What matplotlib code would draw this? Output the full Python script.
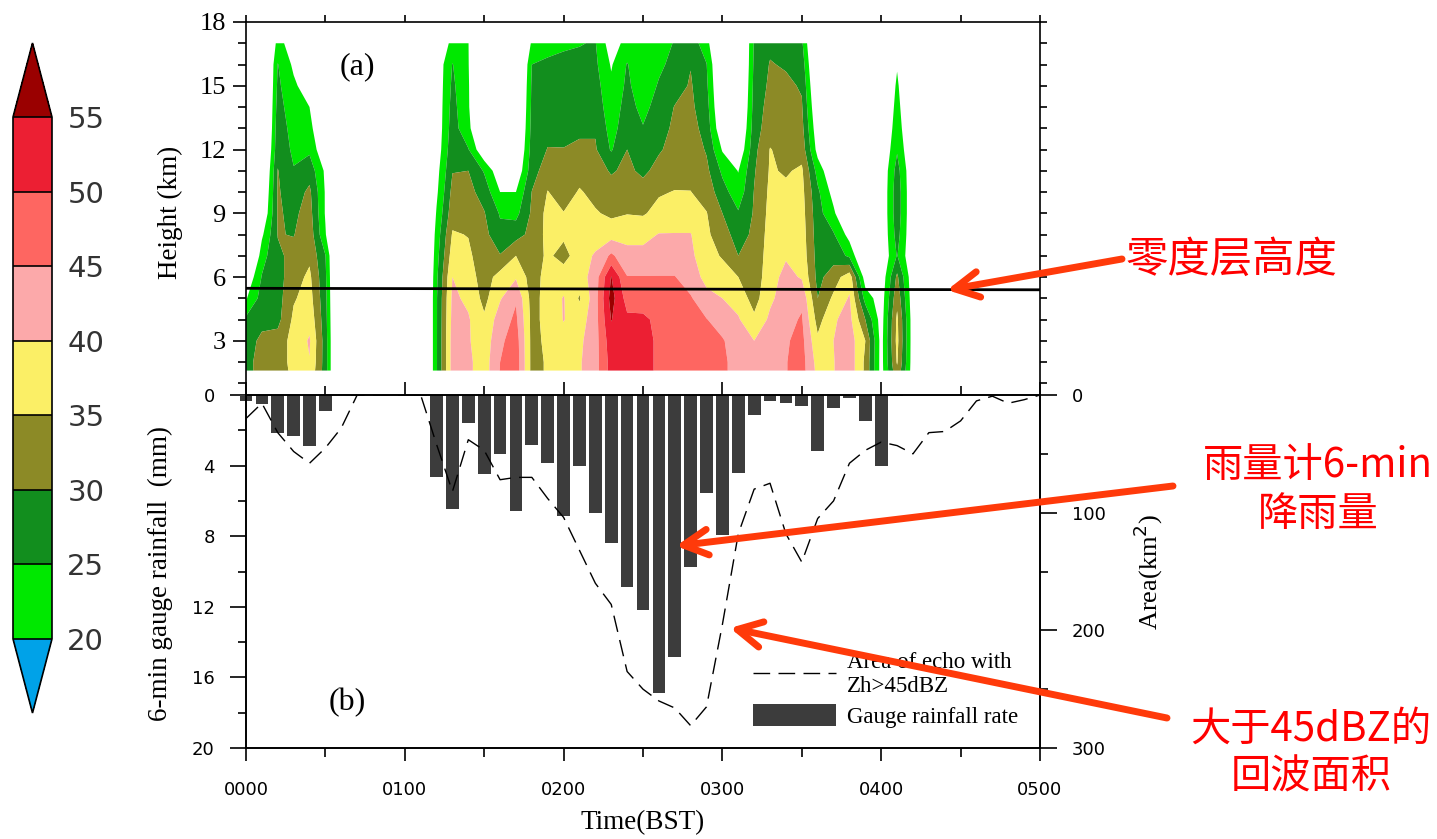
import numpy as np
import matplotlib
matplotlib.use("Agg")
import matplotlib.pyplot as plt
from matplotlib.colors import ListedColormap, BoundaryNorm
from matplotlib.cm import ScalarMappable
from matplotlib.patches import FancyArrowPatch
from matplotlib.ticker import MultipleLocator, FixedLocator

# ---------------- radar reflectivity: one vertical profile (dBZ) per volume scan ----------------
heights_km = [1.6, 2, 3, 4, 5, 6, 7, 8, 9, 10, 11, 12, 13, 14, 15, 16, 17]
scan_minutes = [0, 6, 12, 18, 24, 30, 36, 42, 48, 54, 60, 66, 72, 78, 84, 90, 96,
                102, 108, 114, 120, 126, 132, 138, 144, 150, 156, 162, 168, 174,
                180, 186, 192, 198, 204, 210, 216, 222, 228, 234, 240, 246, 252,
                258, 264]
clear_air = [5, 5, 5, 5, 5, 5, 5, 5, 5, 5, 5, 5, 5, 5, 5, 5, 5]
dbz_profiles = [
    [27.5, 27.5, 27, 26, 19.5, 15, 5, 5, 5, 5, 5, 5, 5, 5, 5, 5, 5],
    [33, 33, 31.5, 28, 27, 25.3, 23, 19, 14, 12, 10, 8, 6, 6, 6, 6, 6],
    [32, 32, 32, 28.5, 28, 28, 29, 30.2, 30.5, 30.5, 30.2, 28.5, 28, 27, 26, 25.2, 22],
    [36.5, 37, 37, 36, 34.5, 33, 31.5, 29.8, 29, 27.5, 25.3, 24, 23, 22, 21, 19, 17],
    [39, 39.8, 40.5, 38.5, 37, 36, 34, 33, 32, 31, 28, 24, 22, 20, 17, 12, 8],
    [27.5, 27.5, 27.5, 27, 26.5, 26, 25.2, 20.5, 19.5, 19.5, 19, 15, 12, 10, 8, 5, 5],
    clear_air, clear_air, clear_air, clear_air, clear_air, clear_air,
    [24.5, 24.5, 24.5, 24.5, 24.5, 24, 23, 22, 20.5, 19, 18, 16.5, 16, 16, 16, 16, 15],
    [42, 42, 42, 41.5, 41, 40, 37.5, 35.5, 33, 31.5, 29.8, 28.5, 27.5, 26.8, 26, 25.2, 21.5],
    [41, 41, 40.5, 40.5, 39, 37.5, 36, 34.8, 33, 31.5, 30, 25.3, 21, 20.5, 20.5, 20.3, 20.2],
    [37.5, 37.5, 37, 35.8, 33.5, 32.5, 32, 31.5, 30.3, 28, 24.5, 15, 14, 12, 10, 8, 6],
    [45.2, 45, 44, 42.5, 39.5, 37, 30.3, 26.5, 24.5, 20, 16, 13, 11, 9, 8, 7, 6],
    [48, 48, 47.5, 46, 44.5, 39.5, 35, 28, 23.5, 20, 15, 12, 10, 9, 8, 7, 6],
    [33.5, 33.5, 33.5, 33.5, 33, 32.5, 32, 31.5, 30.8, 30.1, 28, 27, 26.5, 26, 25.7, 25, 21],
    [35.5, 35.5, 36, 36.5, 37, 37, 36, 36.5, 36.5, 35.2, 32.5, 30.2, 28.5, 27.5, 26.5, 25.5, 24],
    [38, 38, 38.5, 40.2, 40.3, 38, 33, 36, 35.2, 32.5, 31, 30.1, 29, 28, 27, 25.8, 24.5],
    [39.5, 39.5, 39, 37.5, 34.5, 37.5, 38, 37.5, 36.5, 35.5, 33, 30.5, 29.5, 28.5, 27.5, 26, 24.8],
    [43, 43, 43, 43, 43, 42.5, 40.5, 38, 35.5, 33.5, 32, 30.5, 29.5, 28, 27, 26, 25.3],
    [52, 52, 53, 55.2, 57, 55.2, 46, 38, 34, 32, 29.5, 24.5, 23, 22, 21, 19.5, 17],
    [51.5, 51.5, 51.5, 51, 48, 45.2, 41.5, 38.5, 34.8, 32.5, 31, 30, 28, 27, 26, 25.3, 22],
    [51, 51, 51, 50.8, 48, 45.2, 41.5, 38.5, 34.5, 32, 29, 27, 25.3, 23.5, 22, 21, 20],
    [49.5, 49.5, 49.5, 49, 47, 45.2, 42, 40.2, 36.5, 34.5, 31.5, 29.5, 28, 27, 25.5, 24, 22],
    [48, 48, 48, 47.5, 46.5, 45.2, 42, 40.2, 37.5, 35.2, 33, 31.5, 31, 30.2, 28, 26.5, 25.5],
    [47, 47, 47, 46.5, 45.5, 42.5, 41, 40.2, 37.5, 35.1, 33.5, 33, 32, 31, 30.5, 29.8, 28],
    [45.5, 45.5, 45.5, 45.2, 41.5, 38.5, 37, 36, 35.2, 33, 31.2, 29.5, 28, 27, 26, 25.2, 22],
    [46, 46, 45.5, 42.5, 40, 37.5, 34.5, 32, 30, 27, 24, 19.5, 15, 13, 12, 11, 10],
    [43, 43, 42, 40.5, 38, 35, 30, 28, 25.5, 22, 19.8, 15, 12, 10, 9, 8, 8],
    [41, 41, 40, 36, 33, 32, 31.5, 31, 30.5, 30.2, 29.5, 28.5, 27.5, 27, 26.5, 26, 25.5],
    [42.5, 42.5, 42, 41, 39, 38, 37.5, 37, 36.5, 36, 35.5, 35.2, 33, 32, 31, 30.3, 29],
    [44.8, 44.8, 44.5, 43.5, 42.5, 41.5, 39.5, 38.5, 37.5, 36, 34.5, 33.5, 33, 32, 31, 29.5, 28],
    [47, 47, 46.5, 45.5, 44, 39.5, 38, 37.5, 37, 36.5, 35.8, 33, 31.5, 30.5, 29.5, 28, 26],
    [38.5, 38, 36, 33, 30, 28.5, 28, 27.5, 27, 26, 23, 18, 16, 14, 12, 10, 8],
    [39.8, 39.8, 40, 39.5, 36, 32.5, 28, 25.5, 21, 18, 15, 12, 10, 8, 7, 6, 5],
    [43, 43, 42.5, 41.5, 40.5, 38, 24, 18, 12, 9, 8, 7, 6, 6, 5, 5, 5],
    [34, 34, 35, 30, 23, 17, 12, 10, 8, 7, 6, 6, 5, 5, 5, 5, 5],
    [18, 18, 18, 17.5, 17, 16, 15, 15, 15, 15, 15, 14, 13, 12, 11, 10, 8],
    [34, 35.5, 36.5, 36, 33.5, 31, 25.3, 27, 28, 28, 27, 24.5, 23, 22, 21, 19.5, 15],
    [17, 17, 17, 17, 16.5, 16, 15, 15, 15, 15, 15, 14, 13, 12, 11, 10, 8],
    clear_air, clear_air,
]
dbz_levels = [20, 25, 30, 35, 40, 45, 50, 55]
dbz_top = 60
dbz_colors = ["#00E800", "#128E1E", "#8C8A26", "#FBEF66",
              "#FCA9AA", "#FE6661", "#EC1F33"]
dbz_over = "#9A0000"
dbz_under = "#00A2E8"

# freezing level (km) at start and end of the period
freezing_minutes = [0, 300]
freezing_level_km = [5.47, 5.40]

# ---------------- rain gauge and echo area ----------------
gauge_minutes = [0, 6, 12, 18, 24, 30, 36, 42, 48, 54, 60, 66, 72, 78, 84, 90,
                 96, 102, 108, 114, 120, 126, 132, 138, 144, 150, 156, 162, 168,
                 174, 180, 186, 192, 198, 204, 210, 216, 222, 228, 234, 240, 246]
gauge_rain_mm = [0.32, 0.5, 2.17, 2.3, 2.89, 0.89, 0, 0.05, 0, 0, 0, 0.05,
                 4.62, 6.47, 1.6, 4.5, 3.32, 6.6, 2.81, 3.83, 6.83, 4.0, 6.7,
                 8.4, 10.9, 12.17, 16.9, 14.85, 9.77, 5.57, 7.92, 4.4, 1.11,
                 0.32, 0.45, 0.6, 3.2, 0.74, 0.19, 1.5, 4.0, 0.05]

area_minutes = [0, 6, 12, 18, 24, 30, 36, 42, 48, 54, 60, 66, 72, 78, 84, 90,
                96, 102, 108, 114, 120, 126, 132, 138, 144, 150, 156, 162, 168,
                174, 180, 186, 192, 198, 204, 210, 216, 222, 228, 234, 240, 246,
                252, 258, 264, 270, 276, 282, 288, 294, 300]
echo_area_km2 = [20, 7, 32, 48, 58, 45, 28, 0, 0, 0, 0, 0, 42, 82, 38, 47, 72,
                 70, 70, 88, 104, 132, 160, 178, 235, 250, 260, 266, 281, 265,
                 195, 118, 80, 75, 118, 142, 105, 90, 58, 47, 40, 43, 50, 32,
                 31, 22, 5, 1, 7, 4, 0]

hour_ticks = [0, 1, 2, 3, 4, 5]
hour_labels = ["0000", "0100", "0200", "0300", "0400", "0500"]

SERIF = "Liberation Serif"
SANS = "DejaVu Sans"
CJK = ["Noto Sans CJK SC", "DejaVu Sans"]

W, H = 1437, 839
fig = plt.figure(figsize=(W / 100, H / 100), dpi=100, facecolor="white")


def box(x0, y0, x1, y1):
    return [x0 / W, 1 - y1 / H, (x1 - x0) / W, (y1 - y0) / H]


def fpos(px, py):
    return (px / W, 1 - py / H)


SPINE_W = 1.2

# ---------------- (a) time-height reflectivity ----------------
ax1 = fig.add_axes(box(246, 22, 1040, 395))
t_scan = np.array(scan_minutes) / 60.0
Z = np.array(dbz_profiles, dtype=float).T
ax1.contourf(t_scan, heights_km, Z, levels=dbz_levels + [dbz_top],
             colors=dbz_colors + [dbz_over], antialiased=True)
ax1.plot(np.array(freezing_minutes) / 60.0, freezing_level_km, color="black", lw=2.0)
ax1.set_xlim(0, 5)
ax1.set_ylim(0.45, 18)
ax1.yaxis.set_major_locator(FixedLocator([3, 6, 9, 12, 15, 18]))
ax1.set_yticklabels(["3", "6", "9", "12", "15", "18"], fontfamily=SERIF, fontsize=19)
ax1.yaxis.set_minor_locator(MultipleLocator(1))
ax1.xaxis.set_major_locator(MultipleLocator(0.5))
ax1.tick_params(axis="y", which="major", left=True, right=False, direction="out",
                length=9.5, width=SPINE_W, pad=5)
ax1.tick_params(axis="y", which="minor", left=True, right=False, direction="out",
                length=5.5, width=SPINE_W)
ax1.tick_params(axis="x", which="both", bottom=False, top=True, labelbottom=False,
                direction="out", length=5, width=SPINE_W)
ax1.spines["bottom"].set_visible(False)
for s in ("left", "right", "top"):
    ax1.spines[s].set_linewidth(SPINE_W)
ax1.set_ylabel("Height (km)", fontfamily=SERIF, fontsize=19.5)
ax1.yaxis.set_label_coords((183 - 246) / 794, 0.489)
ax1.text(0.70, 15.9, "(a)", ha="center", va="center", fontfamily=SERIF, fontsize=23)

ax1r = ax1.twinx()
ax1r.set_ylim(ax1.get_ylim())
ax1r.yaxis.set_major_locator(MultipleLocator(1))
ax1r.tick_params(axis="y", which="major", right=True, labelright=False,
                 direction="out", length=5, width=SPINE_W)
for s in ax1r.spines.values():
    s.set_visible(False)

# ---------------- (b) gauge rainfall and echo area ----------------
ax2 = fig.add_axes(box(246, 395, 1040, 748))
bars = ax2.bar(np.array(gauge_minutes) / 60.0, gauge_rain_mm, width=0.08,
               color="#3C3C3C", clip_on=False, zorder=2)
ax2.set_xlim(0, 5)
ax2.set_ylim(20, 0)
ax2.xaxis.set_major_locator(FixedLocator(hour_ticks))
ax2.set_xticklabels(hour_labels, fontfamily=SANS, fontsize=13)
ax2.xaxis.set_minor_locator(MultipleLocator(0.5))
ax2.yaxis.set_major_locator(MultipleLocator(4))
ax2.yaxis.set_minor_locator(MultipleLocator(2))
ax2.tick_params(axis="x", which="major", top=True, bottom=True, direction="out",
                length=9.5, width=SPINE_W, pad=14, labelsize=13)
ax2.tick_params(axis="x", which="minor", top=True, bottom=True, direction="out",
                length=6.5, width=SPINE_W)
ax2.tick_params(axis="y", which="major", left=True, right=False, direction="out",
                length=11.5, width=SPINE_W, pad=11, labelsize=13, labelfontfamily=SANS)
ax2.tick_params(axis="y", which="minor", left=True, right=False, direction="out",
                length=6, width=SPINE_W)
for s in ax2.spines.values():
    s.set_linewidth(SPINE_W)
ax2.set_ylabel("6-min gauge rainfall  (mm)", fontfamily=SERIF, fontsize=19.5)
ax2.yaxis.set_label_coords((173 - 246) / 794, 0.494)
ax2.set_xlabel("Time(BST)", fontfamily=SERIF, fontsize=19.5)
ax2.xaxis.set_label_coords(0.5, (748 - 810) / 353)
ax2.text(0.64, 17.4, "(b)", ha="center", va="center", fontfamily=SERIF, fontsize=23)

ax2r = ax2.twinx()
area_line, = ax2r.plot(np.array(area_minutes) / 60.0, echo_area_km2, color="black",
                       lw=1.0, dashes=(12, 6))
ax2r.set_ylim(300, 0)
ax2r.yaxis.set_major_locator(MultipleLocator(100))
ax2r.yaxis.set_minor_locator(MultipleLocator(50))
ax2r.tick_params(axis="y", which="major", right=True, direction="out", length=12,
                 width=SPINE_W, pad=11, labelsize=13, labelfontfamily=SANS)
ax2r.tick_params(axis="y", which="minor", right=True, direction="out", length=6,
                 width=SPINE_W)
for s in ax2r.spines.values():
    s.set_linewidth(SPINE_W)
ax2r.set_ylabel("Area(km$^2$)", fontfamily=SERIF, fontsize=19)
ax2r.yaxis.set_label_coords((1132 - 246) / 794, 0.50)

ax2r.legend([area_line, bars], ["Area of echo with\nZh>45dBZ", "Gauge rainfall rate"],
            loc="upper left", bbox_to_anchor=fpos(753, 652),
            bbox_transform=fig.transFigure, frameon=False,
            prop={"family": SERIF, "size": 16.5}, handlelength=3.6,
            handleheight=1.1, handletextpad=0.5, borderpad=0, borderaxespad=0,
            labelspacing=0.3)

# ---------------- colour bar ----------------
cax = fig.add_axes(box(13, 43, 52, 713))
cmap = ListedColormap(dbz_colors)
cmap.set_over(dbz_over)
cmap.set_under(dbz_under)
norm = BoundaryNorm(dbz_levels, cmap.N)
cb = fig.colorbar(ScalarMappable(norm=norm, cmap=cmap), cax=cax, extend="both",
                  extendfrac=0.142, drawedges=True, ticks=dbz_levels)
cb.outline.set_linewidth(1.2)
cb.dividers.set_linewidth(1.2)
cax.tick_params(length=0, pad=11, labelsize=21, labelcolor="#333333")
for lbl in cax.get_yticklabels():
    lbl.set_fontfamily(SANS)

# ---------------- red call-outs ----------------
RED = "#FF0000"
ARROW = "#FF3A0A"
fig.text(*fpos(1231, 260), "零度层高度", color=RED, fontsize=30.5, family=CJK,
         ha="center", va="center")
fig.text(*fpos(1318, 490), "雨量计6-min\n降雨量", color=RED, fontsize=29, family=CJK,
         ha="center", va="center", linespacing=1.25)
fig.text(*fpos(1311, 753), "大于45dBZ的\n回波面积", color=RED, fontsize=29, family=CJK,
         ha="center", va="center", linespacing=1.2)

callouts = [((1122, 259), (947, 290)),
            ((1173, 486), (676, 546)),
            ((1167, 718), (730, 628))]
for tail, head in callouts:
    fig.add_artist(FancyArrowPatch(fpos(*tail), fpos(*head), transform=fig.transFigure,
                                   arrowstyle="->,head_length=0.8,head_width=0.42",
                                   mutation_scale=22, lw=5, color=ARROW,
                                   shrinkA=0, shrinkB=0, zorder=10))

fig.savefig("out.png", dpi=100, facecolor="white")
